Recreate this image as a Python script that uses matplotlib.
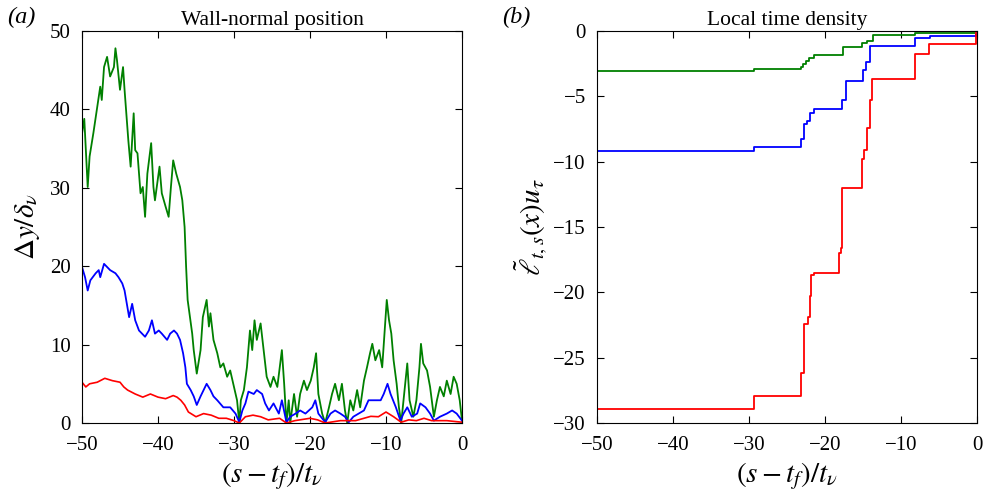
import numpy as np
import matplotlib
matplotlib.use('Agg')
import matplotlib.pyplot as plt

plt.rcParams['font.family'] = ['Liberation Serif', 'DejaVu Serif']
plt.rcParams['mathtext.fontset'] = 'stix'

# panel (a): wall-normal position
t_green = [-50, -49.7, -49.25, -49.0, -48.5, -48.0, -47.6, -47.4, -47.1, -46.7, -46.3, -45.8, -45.6, -45.4,
           -45.0, -44.6, -44.4, -44.2, -43.9, -43.6, -43.2, -43.0, -42.7, -42.3, -42.0, -41.7, -41.4,
           -40.9, -40.6, -40.4, -39.8, -39.5, -39.0, -38.6, -38.3, -38.0, -37.6, -37.1, -36.8, -36.5,
           -36.3, -36.1, -35.8, -35.5, -35.3, -34.9, -34.4, -34.1, -33.6, -33.3, -33.1, -32.7, -32.2,
           -31.8, -31.4, -30.9, -30.5, -30.0, -29.6, -29.3, -29.1, -28.7, -28.3, -27.9, -27.6, -27.3,
           -27.0, -26.5, -26.1, -25.7, -25.2, -24.8, -24.3, -23.7, -23.4, -23.1, -22.8, -22.6, -22.1,
           -21.7, -21.3, -20.8, -20.4, -19.9, -19.5, -19.2, -18.9, -18.4, -18.0, -17.5, -17.1, -16.7,
           -16.2, -15.8, -15.4, -15.1, -14.7, -14.3, -13.8, -13.4, -12.9, -12.5, -12.1, -11.8, -11.4,
           -10.9, -10.5, -10.2, -9.9, -9.6, -9.3, -9.0, -8.6, -8.3, -8.0, -7.7, -7.2, -6.9, -6.4, -6.0,
           -5.6, -5.4, -5.1, -4.6, -4.2, -3.7, -3.3, -2.9, -2.4, -2.0, -1.5, -1.1, -0.7, -0.3, 0]
y_green = [36.9, 38.8, 30.1, 34.0, 37.0, 40.3, 42.9, 41.2, 45.4, 46.7, 44.2, 45.4, 47.8, 46.3,
           42.5, 45.4, 42.5, 39.9, 36.0, 32.7, 39.5, 34.8, 34.4, 29.3, 30.1, 26.3, 31.8,
           35.7, 30.1, 28.4, 32.7, 29.3, 27.6, 26.3, 30.1, 33.5, 31.8, 30.1, 28.4, 25.0,
           19.9, 15.7, 13.5, 11.4, 9.3, 6.3, 9.3, 13.5, 15.7, 12.3, 14.0, 10.6, 8.9,
           7.1, 7.6, 5.9, 6.7, 4.6, 2.9, 0.0, 2.9, 4.2, 7.1, 11.8, 9.3, 13.1,
           10.6, 12.7, 9.3, 5.9, 4.6, 5.9, 4.6, 9.3, 5.0, 0.0, 2.9, 0.0, 3.7,
           0.8, 3.7, 5.4, 4.2, 5.4, 7.1, 8.9, 3.7, 1.2, 0.0, 2.0, 3.7, 5.0,
           2.9, 5.0, 1.6, 0.0, 2.9, 1.6, 4.2, 2.0, 5.4, 7.1, 8.9, 10.1, 8.0,
           9.3, 7.1, 11.4, 15.7, 13.1, 11.4, 8.0, 5.0, 2.0, 0.0, 2.9, 7.6, 2.9, 0.8, 2.9,
           7.1, 10.1, 7.6, 6.7, 4.6, 0.8, 2.9, 4.6, 3.4, 5.4, 3.7, 5.9, 5.0, 2.9, 0.3]

t_blue = [-50, -49.6, -49.25, -48.9, -48.2, -47.8, -47.6, -47.1, -46.7, -46.3, -45.6, -45.2, -44.7,
          -44.4, -44.1, -43.8, -43.4, -43.0, -42.5, -42.1, -41.7, -41.2, -40.8, -40.4, -39.9, -39.5,
          -38.8, -38.4, -37.9, -37.5, -37.1, -36.7, -36.4, -36.2, -35.7, -35.3, -34.9, -34.4, -34.0,
          -33.6, -33.1, -32.7, -32.2, -31.4, -30.5, -29.8, -29.3, -28.9, -28.5, -28.1, -27.4, -27.0,
          -26.3, -25.9, -25.4, -24.8, -24.1, -23.7, -23.1, -22.6, -21.9, -21.3, -20.6, -19.7, -19.3,
          -18.9, -18.0, -17.3, -16.7, -16.0, -15.4, -14.9, -14.3, -13.6, -12.9, -12.3, -11.6, -10.7,
          -10.3, -9.8, -9.4, -8.7, -8.1, -7.7, -7.2, -6.6, -5.9, -5.5, -4.8, -4.2, -3.7, -2.9, -2.0,
          -1.3, -0.7, 0]
y_blue = [19.9, 18.6, 16.9, 18.2, 19.1, 19.5, 18.6, 20.3, 19.9, 19.5, 19.1, 18.6, 17.8,
          16.9, 15.2, 13.5, 15.2, 13.1, 11.8, 11.4, 11.0, 11.8, 13.1, 11.4, 11.8, 11.4,
          10.6, 11.4, 11.8, 11.4, 10.6, 8.9, 7.1, 5.0, 4.2, 3.4, 2.3, 3.4, 4.2,
          5.0, 4.2, 3.4, 2.9, 2.0, 2.0, 1.2, 0.1, 1.6, 2.5, 4.0, 3.7, 4.2,
          3.7, 2.5, 1.6, 2.5, 1.2, 2.9, 0.1, 0.8, 1.2, 1.6, 1.2, 2.0, 2.9,
          1.2, 0.1, 1.2, 1.6, 1.2, 0.8, 0.1, 0.8, 1.2, 1.6, 2.9, 2.9, 2.9,
          3.7, 5.0, 3.7, 2.0, 0.3, 1.2, 2.0, 0.8, 1.2, 2.5, 2.0, 1.2, 0.3, 0.8, 1.2,
          1.6, 1.2, 0.3]

t_red = [-50, -49.5, -49, -48, -47, -46, -45, -44.5, -44, -43, -42, -41, -40, -39, -38, -37.5,
         -37, -36.5, -36, -35, -34, -33, -32, -31, -30, -29.3, -28.5, -27.5, -26.5, -25.5, -24,
         -23.1, -22, -20, -19, -18, -16, -14, -12, -11, -10, -9, -8, -7, -6, -5, -4, -2, 0]
y_red = [5.2, 4.6, 5.0, 5.2, 5.7, 5.4, 5.2, 4.6, 4.2, 3.7, 3.3, 3.7, 3.3, 3.1, 3.5, 3.3,
         2.9, 2.3, 1.4, 0.8, 1.2, 1.0, 0.6, 0.6, 0.3, 0.0, 0.8, 1.0, 0.8, 0.4, 0.6,
         0.0, 0.3, 0.6, 0.4, 0.0, 0.3, 0.3, 0.85, 0.8, 1.4, 0.8, 0.1, 0.4, 0.3, 0.6, 0.3, 0.3, 0.1]

# panel (b): local time density, step levels
s_green = [-50, -29.3, -23.2, -22.9, -22.5, -22.1, -21.5, -17.6, -15.1, -14.5, -13.7, -8.1, -0.1, 0]
l_green = [-3.06, -2.88, -2.72, -2.55, -2.3, -2.1, -1.8, -1.25, -0.95, -0.75, -0.3, -0.12, 0, 0]

s_blue = [-50, -29.3, -23.2, -22.8, -22.4, -22.0, -21.5, -17.7, -17.3, -15.0, -14.6, -14.1, -8.1, -6.2, -0.1, 0]
l_blue = [-9.18, -8.87, -8.3, -7.1, -6.85, -6.3, -5.95, -5.3, -3.85, -3.0, -2.35, -1.12, -0.56, -0.36, 0, 0]

s_red = [-50, -29.3, -23.2, -22.7, -22.3, -22.0, -21.8, -21.5, -18.1, -17.9, -17.7, -15.1, -14.9,
         -14.5, -14.1, -13.8, -8.1, -6.3, -0.1, 0]
l_red = [-28.92, -27.93, -26.2, -22.4, -21.9, -20.3, -18.7, -18.5, -17.0, -16.6, -12.0, -9.8, -9.1,
         -7.4, -5.3, -3.67, -1.76, -1.02, 0, 0]

xtick_labels = ['\u221250', '\u221240', '\u221230', '\u221220', '\u221210', '0']
ytick_labels_b = ['\u221230', '\u221225', '\u221220', '\u221215', '\u221210', '\u22125', '0']

fig = plt.figure(figsize=(9.84, 4.91), dpi=100)
ax1 = fig.add_axes([82/984, 1 - 423/491, 380/984, 392/491])
ax2 = fig.add_axes([597/984, 1 - 423/491, 380/984, 392/491])

ax1.plot(t_green, y_green, color='#008000', lw=1.3)
ax1.plot(t_blue, y_blue, color='#0000ff', lw=1.3)
ax1.plot(t_red, y_red, color='#ff0000', lw=1.2)
ax1.set_xlim(-50, 0)
ax1.set_ylim(0, 50)
ax1.set_xticks(np.arange(-50, 1, 10))
ax1.set_xticklabels(xtick_labels)
ax1.set_yticks(np.arange(0, 51, 10))
ax1.set_title('Wall-normal position', fontsize=15.5, pad=4)
ax1.set_ylabel(r'$\Delta y/\delta_\nu$', fontsize=21, labelpad=6)
ax1.set_xlabel(r'$(s-t_f)/t_\nu$', fontsize=21, labelpad=4)

ax2.plot(s_green, l_green, color='#008000', lw=1.3, drawstyle='steps-post')
ax2.plot(s_blue, l_blue, color='#0000ff', lw=1.3, drawstyle='steps-post')
ax2.plot(s_red, l_red, color='#ff0000', lw=1.3, drawstyle='steps-post')
ax2.set_xlim(-50, 0)
ax2.set_ylim(-30, 0)
ax2.set_xticks(np.arange(-50, 1, 10))
ax2.set_xticklabels(xtick_labels)
ax2.set_yticks(np.arange(-30, 1, 5))
ax2.set_yticklabels(ytick_labels_b)
ax2.set_title('Local time density', fontsize=15.5, pad=4)
ax2.set_ylabel(r'$\tilde{\ell}_{t,s}(x)u_\tau$', fontsize=21, labelpad=2)
ax2.set_xlabel(r'$(s-t_f)/t_\nu$', fontsize=21, labelpad=4)

for ax in (ax1, ax2):
    ax.tick_params(direction='in', top=True, right=True, length=5, width=0.8, labelsize=15)
    ax.tick_params(axis='y', pad=8)
    ax.tick_params(axis='x', pad=9)
    for sp in ax.spines.values():
        sp.set_linewidth(0.8)

fig.text(7/984, 1 - 17/491, '(a)', fontsize=17.5, style='italic', va='center')
fig.text(502/984, 1 - 17/491, '(b)', fontsize=17.5, style='italic', va='center')

fig.savefig('out.png', dpi=100)
